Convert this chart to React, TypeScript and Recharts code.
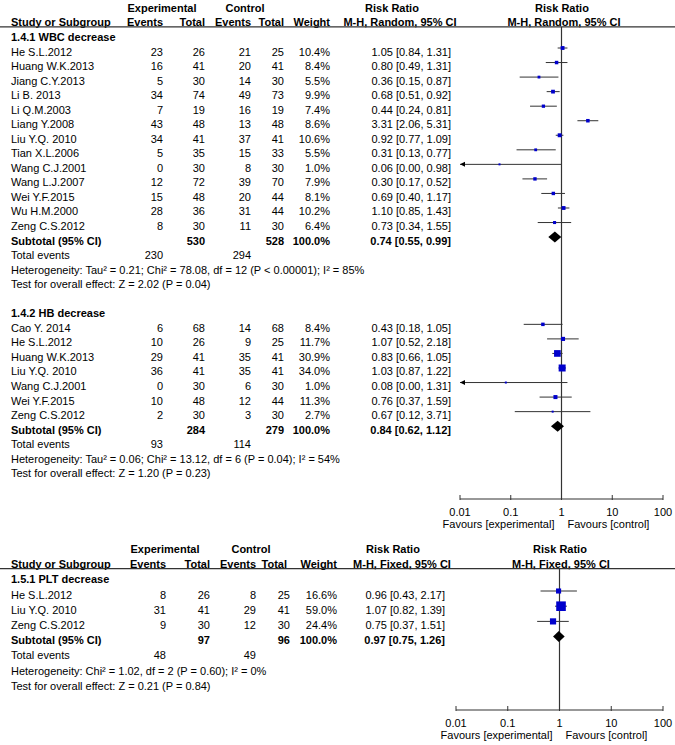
import React from 'react';
import { ScatterChart, Scatter, XAxis, YAxis, ReferenceLine } from 'recharts';

const FONT = '"Liberation Sans", Arial, Helvetica, sans-serif';
const BLUE = '#0000CC';
const LINE = '#333333';
const XMIN = 0.01;
const XTICKS = [0.01, 0.1, 1, 10, 100];

// 1.4.1 WBC decrease
const wbcStudies = ['He S.L.2012', 'Huang W.K.2013', 'Jiang C.Y.2013', 'Li B. 2013', 'Li Q.M.2003', 'Liang Y.2008', 'Liu Y.Q. 2010', 'Tian X.L.2006', 'Wang C.J.2001', 'Wang L.J.2007', 'Wei Y.F.2015', 'Wu H.M.2000', 'Zeng C.S.2012'];
const wbcExpEvents = [23, 16, 5, 34, 7, 43, 34, 5, 0, 12, 15, 28, 8];
const wbcExpTotal = [26, 41, 30, 74, 19, 48, 41, 35, 30, 72, 48, 36, 30];
const wbcCtlEvents = [21, 20, 14, 49, 16, 13, 37, 15, 8, 39, 20, 31, 11];
const wbcCtlTotal = [25, 41, 30, 73, 19, 48, 41, 33, 30, 70, 44, 44, 30];
const wbcWeight = [10.4, 8.4, 5.5, 9.9, 7.4, 8.6, 10.6, 5.5, 1.0, 7.9, 8.1, 10.2, 6.4];
const wbcRR = [1.05, 0.8, 0.36, 0.68, 0.44, 3.31, 0.92, 0.31, 0.06, 0.3, 0.69, 1.1, 0.73];
const wbcLow = [0.84, 0.49, 0.15, 0.51, 0.24, 2.06, 0.77, 0.13, 0.0, 0.17, 0.4, 0.85, 0.34];
const wbcHigh = [1.31, 1.31, 0.87, 0.92, 0.81, 5.31, 1.09, 0.77, 0.98, 0.52, 1.17, 1.43, 1.55];
const wbcSubtotal = [530, 528];
const wbcPooled = [0.74, 0.55, 0.99];
const wbcTotalEvents = [230, 294];

// 1.4.2 HB decrease
const hbStudies = ['Cao Y. 2014', 'He S.L.2012', 'Huang W.K.2013', 'Liu Y.Q. 2010', 'Wang C.J.2001', 'Wei Y.F.2015', 'Zeng C.S.2012'];
const hbExpEvents = [6, 10, 29, 36, 0, 10, 2];
const hbExpTotal = [68, 26, 41, 41, 30, 48, 30];
const hbCtlEvents = [14, 9, 35, 35, 6, 12, 3];
const hbCtlTotal = [68, 25, 41, 41, 30, 44, 30];
const hbWeight = [8.4, 11.7, 30.9, 34.0, 1.0, 11.3, 2.7];
const hbRR = [0.43, 1.07, 0.83, 1.03, 0.08, 0.76, 0.67];
const hbLow = [0.18, 0.52, 0.66, 0.87, 0.0, 0.37, 0.12];
const hbHigh = [1.05, 2.18, 1.05, 1.22, 1.31, 1.59, 3.71];
const hbSubtotal = [284, 279];
const hbPooled = [0.84, 0.62, 1.12];
const hbTotalEvents = [93, 114];

// 1.5.1 PLT decrease
const pltStudies = ['He S.L.2012', 'Liu Y.Q. 2010', 'Zeng C.S.2012'];
const pltExpEvents = [8, 31, 9];
const pltExpTotal = [26, 41, 30];
const pltCtlEvents = [8, 29, 12];
const pltCtlTotal = [25, 41, 30];
const pltWeight = [16.6, 59.0, 24.4];
const pltRR = [0.96, 1.07, 0.75];
const pltLow = [0.43, 0.82, 0.37];
const pltHigh = [2.17, 1.39, 1.51];
const pltSubtotal = [97, 96];
const pltPooled = [0.97, 0.75, 1.26];
const pltTotalEvents = [48, 49];

type Group = {
  title: string;
  names: string[];
  expEv: number[];
  expTot: number[];
  ctlEv: number[];
  ctlTot: number[];
  weight: number[];
  rr: number[];
  lo: number[];
  hi: number[];
  subtotal: number[];
  pooled: number[];
  events: number[];
  het: string;
  test: string;
};

const topGroups: Group[] = [
  {
    title: '1.4.1 WBC decrease', names: wbcStudies, expEv: wbcExpEvents, expTot: wbcExpTotal,
    ctlEv: wbcCtlEvents, ctlTot: wbcCtlTotal, weight: wbcWeight, rr: wbcRR, lo: wbcLow, hi: wbcHigh,
    subtotal: wbcSubtotal, pooled: wbcPooled, events: wbcTotalEvents,
    het: 'Heterogeneity: Tau\u00b2 = 0.21; Chi\u00b2 = 78.08, df = 12 (P < 0.00001); I\u00b2 = 85%',
    test: 'Test for overall effect: Z = 2.02 (P = 0.04)',
  },
  {
    title: '1.4.2 HB decrease', names: hbStudies, expEv: hbExpEvents, expTot: hbExpTotal,
    ctlEv: hbCtlEvents, ctlTot: hbCtlTotal, weight: hbWeight, rr: hbRR, lo: hbLow, hi: hbHigh,
    subtotal: hbSubtotal, pooled: hbPooled, events: hbTotalEvents,
    het: 'Heterogeneity: Tau\u00b2 = 0.06; Chi\u00b2 = 13.12, df = 6 (P = 0.04); I\u00b2 = 54%',
    test: 'Test for overall effect: Z = 1.20 (P = 0.23)',
  },
];

const bottomGroups: Group[] = [
  {
    title: '1.5.1 PLT decrease', names: pltStudies, expEv: pltExpEvents, expTot: pltExpTotal,
    ctlEv: pltCtlEvents, ctlTot: pltCtlTotal, weight: pltWeight, rr: pltRR, lo: pltLow, hi: pltHigh,
    subtotal: pltSubtotal, pooled: pltPooled, events: pltTotalEvents,
    het: 'Heterogeneity: Chi\u00b2 = 1.02, df = 2 (P = 0.60); I\u00b2 = 0%',
    test: 'Test for overall effect: Z = 0.21 (P = 0.84)',
  },
];

type Cols = {
  name: number; expEv: number; expTot: number; ctlEv: number; ctlTot: number; ctlTotHead: number;
  weight: number; rr: number; expHead: number; ctlHead: number; rrHead1: number; rrHead2: number;
  plotHead1: number; plotHead2: number;
};

const topCols: Cols = {
  name: 11, expEv: 163, expTot: 205, ctlEv: 251, ctlTot: 284, ctlTotHead: 284, weight: 330, rr: 451,
  expHead: 162, ctlHead: 245, rrHead1: 392, rrHead2: 400, plotHead1: 562, plotHead2: 564,
};

const bottomCols: Cols = {
  name: 11, expEv: 166, expTot: 210, ctlEv: 256, ctlTot: 290, ctlTotHead: 287, weight: 337, rr: 445,
  expHead: 165, ctlHead: 251, rrHead1: 393, rrHead2: 402, plotHead1: 560, plotHead2: 561,
};

const fmtCI = (v: number, l: number, h: number) => `${v.toFixed(2)} [${l.toFixed(2)}, ${h.toFixed(2)}]`;

type Row = { idx: number; kind: string; g?: Group; k?: number };

function buildRows(groups: Group[]) {
  const rows: Row[] = [{ idx: -3, kind: 'head1' }, { idx: -2, kind: 'head2' }];
  const subIdx: number[] = [];
  let i = -1;
  groups.forEach((g, gi) => {
    if (gi > 0) i += 1;
    rows.push({ idx: i++, kind: 'group', g });
    g.names.forEach((_, k) => rows.push({ idx: i++, kind: 'study', g, k }));
    subIdx.push(i);
    rows.push({ idx: i++, kind: 'subtotal', g });
    rows.push({ idx: i++, kind: 'events', g });
    rows.push({ idx: i++, kind: 'het', g });
    rows.push({ idx: i++, kind: 'test', g });
  });
  return { rows, subIdx };
}

const T = (key: string, x: number, y: number, s: string | number, anchor = 'start', bold = false) => (
  <text key={key} x={x} y={y} textAnchor={anchor as any} fontFamily={FONT} fontSize={11}
    fontWeight={bold ? 'bold' : 'normal'} fill="#000">{s}</text>
);

const ArrowLine = (p: any) => (
  <g>
    <line x1={p.x1} y1={p.y1} x2={p.x2} y2={p.y2} stroke={LINE} strokeWidth={1} />
    <polygon points={`${p.x1},${p.y1} ${p.x1 + 5},${p.y1 - 2.5} ${p.x1 + 5},${p.y1 + 2.5}`} fill="#000" />
  </g>
);

const XTick = (p: any) => {
  const { x, y, payload } = p;
  return (
    <g>
      <line x1={x} x2={x} y1={y - 4} y2={y + 1} stroke={LINE} />
      {T('t', x, y + 16.5, String(payload.value), 'middle')}
      {payload.value === 1 && T('fe', x - 7, y + 29, 'Favours [experimental]', 'end')}
      {payload.value === 1 && T('fc', x + 6, y + 29, 'Favours [control]', 'start')}
    </g>
  );
};

type PanelProps = {
  groups: Group[];
  cols: Cols;
  method: string;
  top: number;
  height: number;
  firstY: number;
  rowH: number;
  axisY: number;
  plotLeft: number;
  boxScale: number;
};

function ForestPanel({ groups, cols, method, top, height, firstY, rowH, axisY, plotLeft, boxScale }: PanelProps) {
  const { rows, subIdx } = buildRows(groups);
  const rowMap = new Map(rows.map((r) => [r.idx, r]));
  const yDomain = [-firstY / rowH, (axisY - firstY) / rowH];
  const lineStart = -2 + 8 / rowH;

  const studies = rows.filter((r) => r.kind === 'study').map((r) => {
    const g = r.g as Group;
    const k = r.k as number;
    return { x: g.rr[k], y: r.idx, w: g.weight[k], lo: g.lo[k], hi: g.hi[k] };
  });

  const diamonds = groups.map((g, gi) => {
    const y = subIdx[gi];
    const h = 5.5 / rowH;
    const [est, lo, hi] = g.pooled;
    return [
      { x: lo, y },
      { x: est, y: y - h },
      { x: hi, y },
      { x: est, y: y + h },
    ];
  });

  const renderRow = (p: any) => {
    const row = rowMap.get(p.payload.value);
    if (!row) return <g />;
    const by = p.y + 7.5;
    const g = row.g as Group;
    const c = cols;
    let items: React.ReactNode[] = [];
    switch (row.kind) {
      case 'head1':
        items = [
          T('a', c.expHead, by, 'Experimental', 'middle', true),
          T('b', c.ctlHead, by, 'Control', 'middle', true),
          T('c', c.rrHead1, by, 'Risk Ratio', 'middle', true),
          T('d', c.plotHead1, by, 'Risk Ratio', 'middle', true),
        ];
        break;
      case 'head2':
        items = [
          T('a', c.name, by, 'Study or Subgroup', 'start', true),
          T('b', c.expEv, by, 'Events', 'end', true),
          T('c', c.expTot, by, 'Total', 'end', true),
          T('d', c.ctlEv, by, 'Events', 'end', true),
          T('e', c.ctlTotHead, by, 'Total', 'end', true),
          T('f', c.weight, by, 'Weight', 'end', true),
          T('g', c.rrHead2, by, method, 'middle', true),
          T('h', c.plotHead2, by, method, 'middle', true),
          <line key="u" x1={0} x2={675} y1={p.y + 8} y2={p.y + 8} stroke={LINE} strokeWidth={1.2} />,
        ];
        break;
      case 'group':
        items = [T('a', c.name, by, g.title, 'start', true)];
        break;
      case 'study': {
        const k = row.k as number;
        items = [
          T('a', c.name, by, g.names[k]),
          T('b', c.expEv, by, g.expEv[k], 'end'),
          T('c', c.expTot, by, g.expTot[k], 'end'),
          T('d', c.ctlEv, by, g.ctlEv[k], 'end'),
          T('e', c.ctlTot, by, g.ctlTot[k], 'end'),
          T('f', c.weight, by, `${g.weight[k].toFixed(1)}%`, 'end'),
          T('g', c.rr, by, fmtCI(g.rr[k], g.lo[k], g.hi[k]), 'end'),
        ];
        break;
      }
      case 'subtotal':
        items = [
          T('a', c.name, by, 'Subtotal (95% CI)', 'start', true),
          T('c', c.expTot, by, g.subtotal[0], 'end', true),
          T('e', c.ctlTot, by, g.subtotal[1], 'end', true),
          T('f', c.weight, by, '100.0%', 'end', true),
          T('g', c.rr, by, fmtCI(g.pooled[0], g.pooled[1], g.pooled[2]), 'end', true),
        ];
        break;
      case 'events':
        items = [
          T('a', c.name, by, 'Total events'),
          T('b', c.expEv, by, g.events[0], 'end'),
          T('d', c.ctlEv, by, g.events[1], 'end'),
        ];
        break;
      case 'het':
        items = [T('a', c.name, by, g.het)];
        break;
      case 'test':
        items = [T('a', c.name, by, g.test)];
        break;
    }
    return <g>{items}</g>;
  };

  return (
    <div style={{ position: 'absolute', left: 0, top, width: 675, height }}>
      <ScatterChart width={675} height={height} margin={{ top: 0, right: 12, bottom: 0, left: 0 }}>
        <XAxis
          dataKey="x"
          type="number"
          scale="log"
          domain={[0.01, 100]}
          ticks={XTICKS}
          allowDataOverflow
          interval={0}
          tickLine={false}
          tickSize={0}
          tickMargin={0}
          axisLine={{ stroke: LINE, strokeWidth: 1.2 }}
          height={height - axisY}
          tick={(p: any) => <XTick {...p} />}
        />
        <YAxis
          dataKey="y"
          type="number"
          domain={yDomain}
          reversed
          allowDataOverflow
          ticks={rows.map((r) => r.idx)}
          interval={0}
          width={plotLeft}
          axisLine={false}
          tickLine={false}
          tick={renderRow}
        />
        <ReferenceLine
          segment={[{ x: 1, y: lineStart }, { x: 1, y: yDomain[1] }]}
          stroke={LINE}
          strokeWidth={1.2}
          ifOverflow="visible"
        />
        {studies.map((s, i) => (
          <ReferenceLine
            key={`ci-${i}`}
            segment={[{ x: Math.max(s.lo, XMIN), y: s.y }, { x: s.hi, y: s.y }]}
            stroke={LINE}
            strokeWidth={1}
            ifOverflow="visible"
            shape={s.lo < XMIN ? ArrowLine : undefined}
          />
        ))}
        <Scatter
          data={studies}
          isAnimationActive={false}
          fill={BLUE}
          shape={(p: any) => {
            const side = Math.max(2, boxScale * Math.sqrt(p.payload.w));
            return <rect x={p.cx - side / 2} y={p.cy - side / 2} width={side} height={side} fill={BLUE} />;
          }}
        />
        {diamonds.map((d, i) => (
          <Scatter
            key={`dm-${i}`}
            data={d}
            isAnimationActive={false}
            fill="#000"
            line={(lp: any) => (
              <polygon points={lp.points.map((pt: any) => `${pt.x},${pt.y}`).join(' ')} fill="#000" />
            )}
            lineType="joint"
            shape={() => <g />}
          />
        ))}
      </ScatterChart>
    </div>
  );
}

export default function App() {
  return (
    <div style={{ position: 'absolute', left: 0, top: 0, width: 675, height: 745, background: '#fff' }}>
      <ForestPanel
        groups={topGroups}
        cols={topCols}
        method="M-H, Random, 95% CI"
        top={0}
        height={535}
        firstY={48}
        rowH={14.545}
        axisY={499}
        plotLeft={460}
        boxScale={1.2}
      />
      <ForestPanel
        groups={bottomGroups}
        cols={bottomCols}
        method="M-H, Fixed, 95% CI"
        top={535}
        height={210}
        firstY={56}
        rowH={15.2}
        axisY={175}
        plotLeft={456}
        boxScale={1.25}
      />
    </div>
  );
}
